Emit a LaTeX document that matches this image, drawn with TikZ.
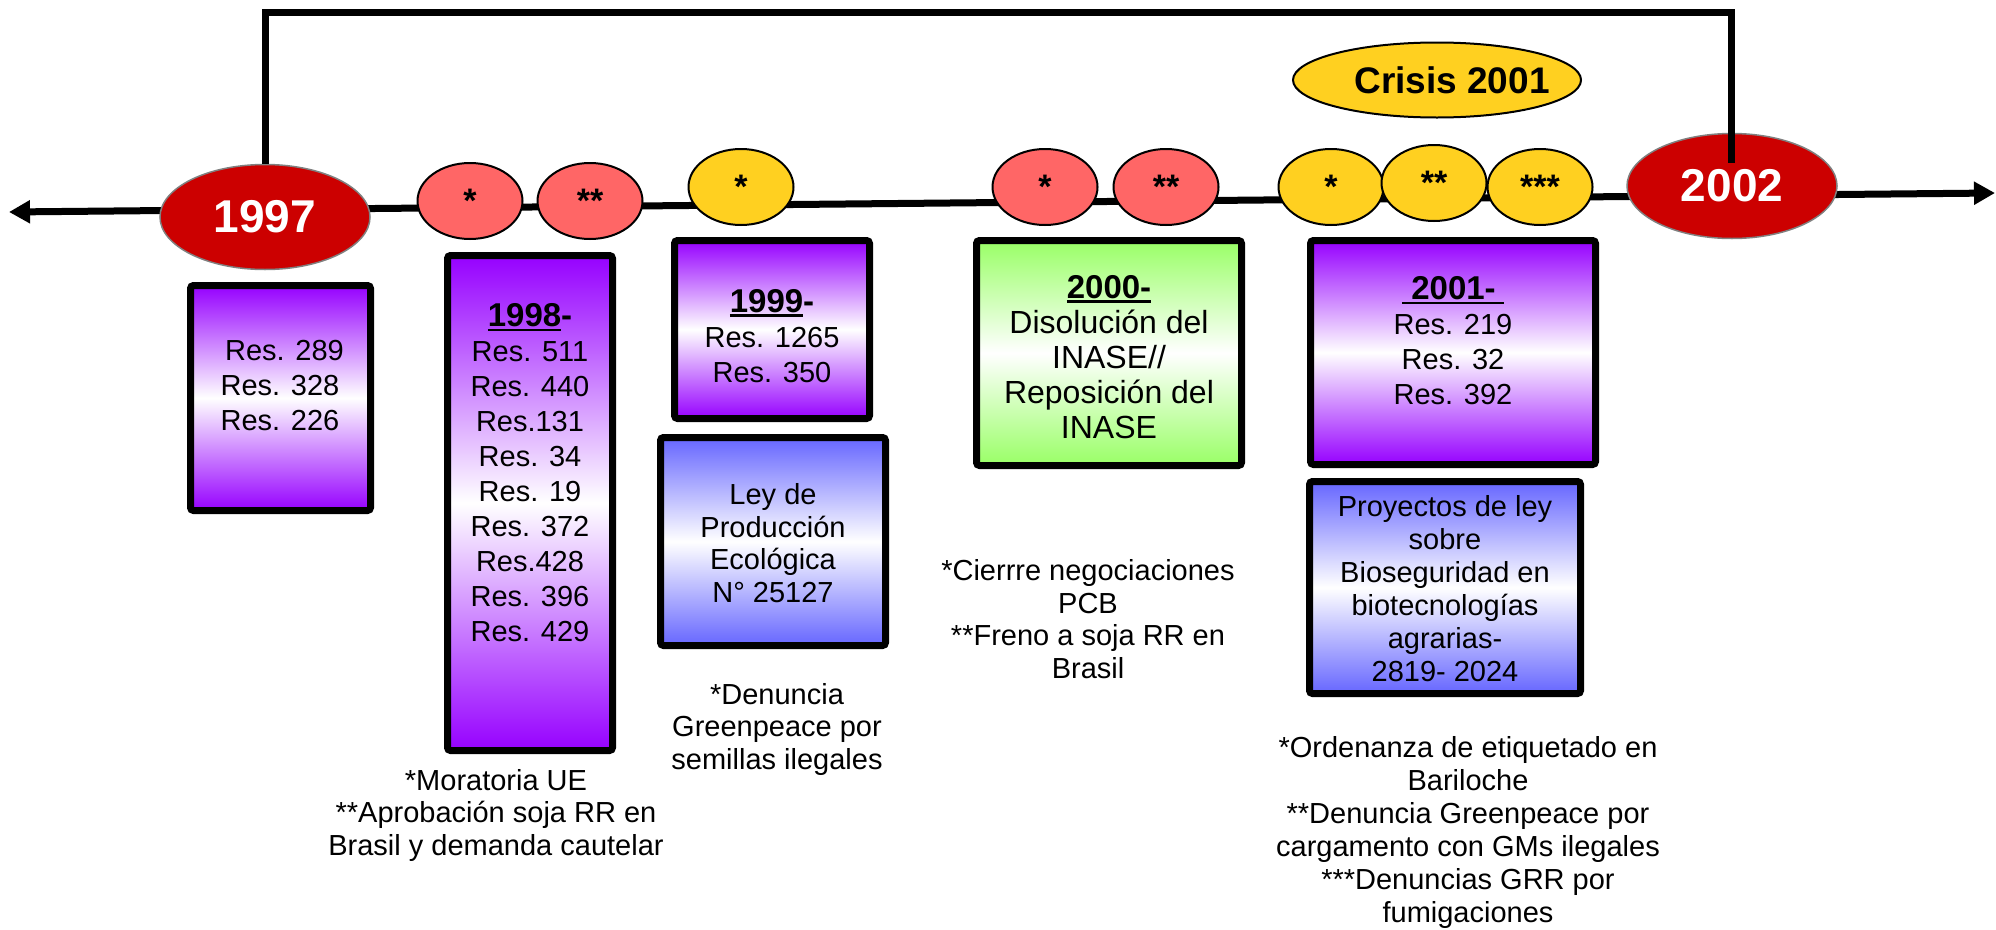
\documentclass[tikz,border=0pt]{standalone}
\usepackage{fontspec}
\setmainfont{Liberation Sans}
\usetikzlibrary{shapes.geometric,arrows.meta}
\definecolor{yearred}{RGB}{204,0,0}
\definecolor{salmon}{RGB}{255,102,102}
\definecolor{goldy}{RGB}{255,208,32}
\definecolor{violetbox}{RGB}{150,0,255}
\definecolor{bluebox}{RGB}{102,102,255}
\definecolor{greenbox}{RGB}{153,255,102}
\newsavebox{\ulboxA}
\newcommand{\myul}[1]{\sbox{\ulboxA}{#1}\rlap{\rule[-4.5pt]{\wd\ulboxA}{2.5pt}}\usebox{\ulboxA}}
\newcommand{\hdr}[1]{{\bfseries\fontsize{33}{35}\selectfont #1}}
\begin{document}
\begin{tikzpicture}[x=1pt,y=-1pt,
  axisline/.style={line width=7pt,{Triangle[length=21pt,width=22pt]}-{Triangle[length=21pt,width=22pt]}},
  bracketline/.style={line width=7pt,line join=miter},
  bigyear/.style={ellipse,draw=gray,line width=1.5pt,fill=yearred,text=white,
    font=\bfseries\fontsize{46}{46}\selectfont,inner sep=0pt,minimum width=210pt,minimum height=105pt},
  dotnode/.style={ellipse,draw=black,line width=2pt,inner sep=0pt,minimum width=105pt,minimum height=76pt,
    font=\bfseries\fontsize{34}{34}\selectfont},
  reddot/.style={dotnode,fill=salmon},
  yellowdot/.style={dotnode,fill=goldy},
  crisisnode/.style={ellipse,draw=black,line width=2pt,fill=goldy,inner sep=0pt,minimum width=288pt,minimum height=75pt,
    font=\bfseries\fontsize{37}{37}\selectfont},
  boxnode/.style={rectangle,draw=black,line width=7pt,rounded corners=3pt,inner sep=0pt},
  purplebox/.style={boxnode,top color=violetbox,bottom color=violetbox,middle color=white},
  bluebx/.style={boxnode,top color=bluebox,bottom color=bluebox,middle color=white},
  greenbx/.style={boxnode,top color=greenbox,bottom color=greenbox,middle color=white},
  boxtext/.style={align=center,inner sep=0pt,font=\fontsize{29}{35}\selectfont},
  notetext/.style={align=center,inner sep=0pt,font=\fontsize{29}{32.5}\selectfont}
]
\useasboundingbox (0,0) rectangle (1996,929);

% timeline
\coordinate (tl) at (9,212);
\coordinate (tr) at (1995,193);
\draw[axisline] (tl) -- (tr);

% year ellipses and event dots
\node[bigyear] (y1997) at (265,217) {1997};
\node[bigyear] (y2002) at (1732,186) {2002};
\node[reddot] (d98a) at (470,201) {*};
\node[reddot] (d98b) at (590,201) {**};
\node[yellowdot] (d99) at (741,187) {*};
\node[reddot] (d00a) at (1045,187) {*};
\node[reddot] (d00b) at (1166,187) {**};
\node[yellowdot] (d01a) at (1331,187) {*};
\node[yellowdot] (d01c) at (1540,187) {***};
\node[yellowdot] (d01b) at (1434,183) {**};
\node[crisisnode] (crisis) at (1437,80) {\makebox[0pt]{\hspace{30pt}Crisis 2001}};

% bracket 1997 -> 2002
\coordinate (bk) at (1731,163);
\draw[bracketline] (y1997.north) -- ++(0,-151) -| (bk);

% boxes
\node[purplebox,minimum width=180pt,minimum height=225pt] (b1997) at (280.5,398) {};
\node[purplebox,minimum width=165pt,minimum height=495pt] (b1998) at (530,503) {};
\node[purplebox,minimum width=195pt,minimum height=178pt] (b1999) at (772,329.5) {};
\node[bluebx,minimum width=225pt,minimum height=208pt] (bley) at (773,541.5) {};
\node[greenbx,minimum width=265pt,minimum height=225pt] (b2000) at (1109,353) {};
\node[purplebox,minimum width=285pt,minimum height=224pt] (b2001) at (1453,352.5) {};
\node[bluebx,minimum width=271pt,minimum height=212pt] (bproy) at (1445,587.5) {};

% box texts
\node[boxtext] (t1997) at (280,386) {\hspace*{9pt}Res. 289\\Res. 328\\Res. 226};
\node[boxtext] (t1998) at (530,473) {\hdr{\myul{1998}-}\\Res. 511\\Res. 440\\Res.131\\Res. 34\\Res. 19\\Res. 372\\Res.428\\Res. 396\\Res. 429};
\node[boxtext] (t1999) at (772,336) {\hdr{\myul{1999}-}\\Res. 1265\\Res. 350};
\node[notetext] (tley) at (773,543) {Ley de\\Producción\\Ecológica\\N° 25127};
\node[boxtext,font=\fontsize{32}{35}\selectfont] (t2000) at (1109,357) {\hdr{\myul{2000-}}\\Disolución del\\INASE//\\Reposición del\\INASE};
\node[boxtext] (t2001) at (1453,341) {\hdr{\myul{\hspace*{9pt}2001-\hspace*{8pt}}}\\Res. 219\\Res. 32\\Res. 392};
\node[notetext,font=\fontsize{29}{33}\selectfont] (tproy) at (1445,589) {Proyectos de ley\\sobre\\Bioseguridad en\\biotecnologías\\agrarias-\\2819- 2024};

% annotations
\node[notetext] (a1998) at (496,815) {*Moratoria UE\\**Aprobación soja RR en\\Brasil y demanda cautelar};
\node[notetext] (a1999) at (777,729) {*Denuncia\\Greenpeace por\\semillas ilegales};
\node[notetext] (a2000) at (1088,619) {*Cierrre negociaciones\\PCB\\**Freno a soja RR en\\Brasil};
\node[notetext,font=\fontsize{29}{33}\selectfont] (a2001) at (1468,832) {*Ordenanza de etiquetado en\\Bariloche\\**Denuncia Greenpeace por\\cargamento con GMs ilegales\\***Denuncias GRR por\\fumigaciones};
\end{tikzpicture}
\end{document}
